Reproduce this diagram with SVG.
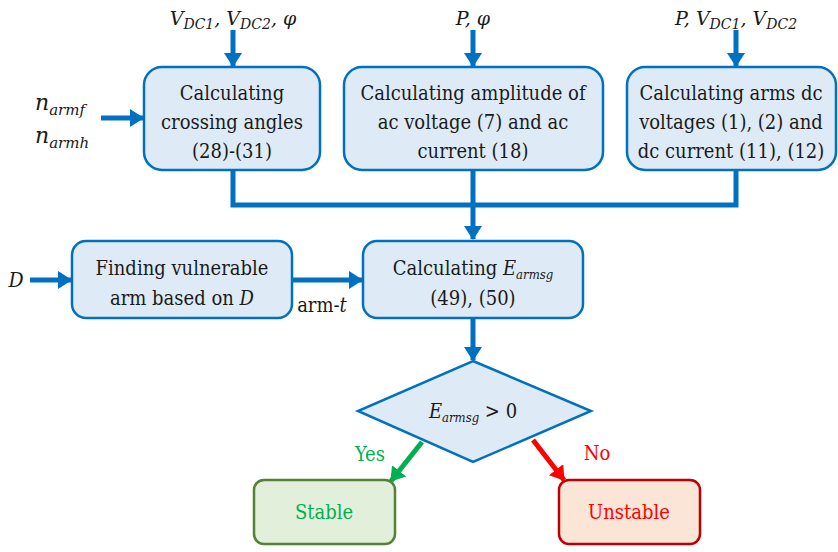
<svg xmlns="http://www.w3.org/2000/svg" width="838" height="552" viewBox="0 0 838 552">
<defs>
<style>
.box{fill:#DEEBF7;stroke:#0070C0;stroke-width:2.5}
.t{font-family:'DejaVu Serif Condensed','DejaVu Serif',serif;font-stretch:condensed;font-size:20px;fill:#1a1a1a;text-anchor:middle}
.m{font-family:'DejaVu Serif','Liberation Serif',serif;font-size:19px;font-style:italic;fill:#1a1a1a}
.sub{font-size:14px}
.c{fill:none;stroke:#0070C0;stroke-width:5}
</style>
<marker id="ab" viewBox="0 0 14 18" refX="13" refY="9" markerWidth="14" markerHeight="18" markerUnits="userSpaceOnUse" orient="auto"><path d="M0,0 L14,9 L0,18 z" fill="#0070C0"/></marker>
<marker id="ag" viewBox="0 0 14 18" refX="13" refY="9" markerWidth="14" markerHeight="18" markerUnits="userSpaceOnUse" orient="auto"><path d="M0,0 L14,9 L0,18 z" fill="#00B050"/></marker>
<marker id="ar" viewBox="0 0 14 18" refX="13" refY="9" markerWidth="14" markerHeight="18" markerUnits="userSpaceOnUse" orient="auto"><path d="M0,0 L14,9 L0,18 z" fill="#FF0000"/></marker>
</defs>
<rect width="838" height="552" fill="#fff"/>

<g id="connectors">
<line class="c" x1="233" y1="30" x2="233" y2="66" marker-end="url(#ab)"/>
<line class="c" x1="473" y1="30" x2="473" y2="66" marker-end="url(#ab)"/>
<line class="c" x1="736" y1="30" x2="736" y2="66" marker-end="url(#ab)"/>
<line class="c" x1="101" y1="118" x2="143" y2="118" marker-end="url(#ab)"/>
<polyline class="c" points="233,171 233,205 736,205 736,171"/>
<line class="c" x1="473" y1="171" x2="473" y2="239" marker-end="url(#ab)"/>
<line class="c" x1="30" y1="280" x2="71" y2="280" marker-end="url(#ab)"/>
<line class="c" x1="293" y1="280" x2="362" y2="280" marker-end="url(#ab)"/>
<line class="c" x1="473" y1="319" x2="473" y2="360" marker-end="url(#ab)"/>
<line x1="422" y1="442" x2="391" y2="481" stroke="#00B050" stroke-width="5" marker-end="url(#ag)"/>
<line x1="533" y1="440" x2="564" y2="480" stroke="#FF0000" stroke-width="5" marker-end="url(#ar)"/>
</g>

<g id="in1"><text class="m" x="233" y="25" text-anchor="middle">V<tspan class="sub" dy="4">DC1</tspan><tspan dy="-4">, V</tspan><tspan class="sub" dy="4">DC2</tspan><tspan dy="-4">, φ</tspan></text></g>
<g id="in2"><text class="m" x="473" y="25" text-anchor="middle">P, φ</text></g>
<g id="in3"><text class="m" x="736" y="25" text-anchor="middle">P, V<tspan class="sub" dy="4">DC1</tspan><tspan dy="-4">, V</tspan><tspan class="sub" dy="4">DC2</tspan></text></g>
<g id="in4"><text class="m" x="35" y="110" style="font-size:22px">n<tspan class="sub" dy="5" style="font-size:15px">armf</tspan></text><text class="m" x="35" y="143" style="font-size:22px">n<tspan class="sub" dy="5" style="font-size:15px">armh</tspan></text></g>
<g id="inD"><text class="t" x="16" y="287" font-style="italic" style="font-size:21px">D</text></g>

<g id="box1"><rect class="box" x="144" y="67" width="176" height="103" rx="18"/>
<text class="t" x="232" y="100">Calculating</text><text class="t" x="232" y="129">crossing angles</text><text class="t" x="232" y="158">(28)-(31)</text></g>
<g id="box2"><rect class="box" x="344" y="67" width="259" height="103" rx="18"/>
<text class="t" x="473" y="100">Calculating amplitude of</text><text class="t" x="473" y="129">ac voltage (7) and ac</text><text class="t" x="473" y="158">current (18)</text></g>
<g id="box3"><rect class="box" x="627" y="67" width="209" height="103" rx="18"/>
<text class="t" x="731" y="100">Calculating arms dc</text><text class="t" x="731" y="129">voltages (1), (2) and</text><text class="t" x="731" y="158">dc current (11), (12)</text></g>

<g id="box4"><rect class="box" x="72" y="241" width="220" height="77" rx="14"/>
<text class="t" x="182" y="275">Finding vulnerable</text><text class="t" x="182" y="305">arm based on <tspan font-style="italic">D</tspan></text></g>
<g id="armt"><text class="t" x="322" y="312">arm-<tspan font-style="italic">t</tspan></text></g>
<g id="box5"><rect class="box" x="363" y="241" width="220" height="77" rx="14"/>
<text class="t" x="473" y="275">Calculating <tspan font-style="italic">E</tspan><tspan font-style="italic" font-size="13" dy="4">armsg</tspan></text><text class="t" x="473" y="305">(49), (50)</text></g>

<g id="decision"><polygon points="473,361 591,411 473,462 358,411" fill="#DEEBF7" stroke="#0070C0" stroke-width="2.5"/>
<text class="t" x="473" y="418"><tspan font-style="italic">E</tspan><tspan font-style="italic" font-size="13" dy="4">armsg</tspan><tspan dy="-4"> &gt; 0</tspan></text></g>

<g id="yes"><text class="t" x="370" y="461" style="fill:#00B050">Yes</text></g>
<g id="no"><text class="t" x="597" y="460" style="fill:#FF0000">No</text></g>

<g id="stable"><rect x="254" y="480" width="141" height="64" rx="10" fill="#E2EFDA" stroke="#548235" stroke-width="2.5"/>
<text class="t" x="324" y="519" style="fill:#00B050">Stable</text></g>
<g id="unstable"><rect x="559" y="480" width="141" height="64" rx="10" fill="#FBE5D6" stroke="#C00000" stroke-width="2.5"/>
<text class="t" x="629" y="519" style="fill:#FF0000">Unstable</text></g>
</svg>
